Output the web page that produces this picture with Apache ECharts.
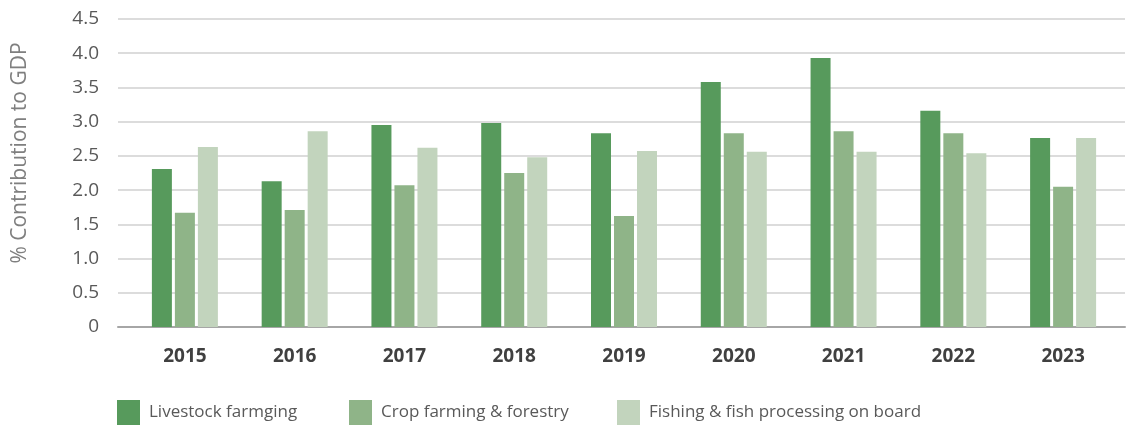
<!DOCTYPE html>
<html><head><meta charset="utf-8">
<script src="https://cdn.jsdelivr.net/npm/echarts@6/dist/echarts.min.js"></script>
<style>html,body{margin:0;padding:0;background:#fff}#c{width:1129px;height:427px}</style>
</head><body><div id="c"></div>
<script>
const years = ['2015','2016','2017','2018','2019','2020','2021','2022','2023'];
const livestock = [2.31, 2.13, 2.95, 2.98, 2.83, 3.58, 3.93, 3.16, 2.76];
const crop = [1.67, 1.71, 2.07, 2.25, 1.62, 2.83, 2.86, 2.83, 2.05];
const fishing = [2.63, 2.86, 2.62, 2.48, 2.57, 2.56, 2.56, 2.54, 2.76];
const seriesNames = ['Livestock farmging', 'Crop farming & forestry', 'Fishing & fish processing on board'];
const yTitle = '% Contribution to GDP';
const colors = ['#579a5c', '#8fb488', '#c2d4bd'];
const legendLefts = [117, 349, 617];

const FONT = 'Open Sans';
const chart = echarts.init(document.getElementById('c'));
chart.setOption({
  animation: false,
  textStyle: { fontFamily: FONT },
  grid: [
    { left: 118, right: 4, top: 19, bottom: 100 },
    { left: 130, right: 11, top: 19, bottom: 100 }
  ],
  graphic: [{
    type: 'text', x: 20, y: 153, rotation: Math.PI / 2,
    style: { text: yTitle, fill: '#7f7f7f', fontSize: 21, fontFamily: FONT, align: 'center', verticalAlign: 'middle' }
  }],
  xAxis: [
    { gridIndex: 0, type: 'category', data: years, axisLine: { show: true, lineStyle: { color: '#a6a6a6', width: 2 } }, axisTick: { show: false }, axisLabel: { show: false } },
    { gridIndex: 1, type: 'category', data: years, axisLine: { show: false }, axisTick: { show: false },
      axisLabel: { color: '#404040', fontWeight: 'bold', fontSize: 19, margin: 20, fontFamily: FONT } }
  ],
  yAxis: [
    { gridIndex: 0, type: 'value', min: 0, max: 4.5, interval: 0.5,
      axisLine: { show: false }, axisTick: { show: false },
      axisLabel: { color: '#595959', fontSize: 19, margin: 19, fontFamily: FONT, formatter: v => v === 0 ? '0' : v.toFixed(1) },
      splitLine: { lineStyle: { color: '#d0d0d0', width: 1.5 } } },
    { gridIndex: 1, type: 'value', min: 0, max: 4.5, interval: 0.5, show: false, splitLine: { show: false } }
  ],
  legend: seriesNames.map((n, i) => ({
    bottom: 2, left: legendLefts[i], padding: 0, itemWidth: 23, itemHeight: 25, icon: 'rect',
    textStyle: { color: '#595959', fontSize: 17, fontFamily: FONT, padding: [0, 0, 0, 4] },
    data: [n]
  })),
  series: [livestock, crop, fishing].map((d, i) => ({
    name: seriesNames[i], type: 'bar', xAxisIndex: 1, yAxisIndex: 1,
    data: d, barWidth: 20, barGap: '15%', itemStyle: { color: colors[i] }
  }))
});
</script></body></html>
